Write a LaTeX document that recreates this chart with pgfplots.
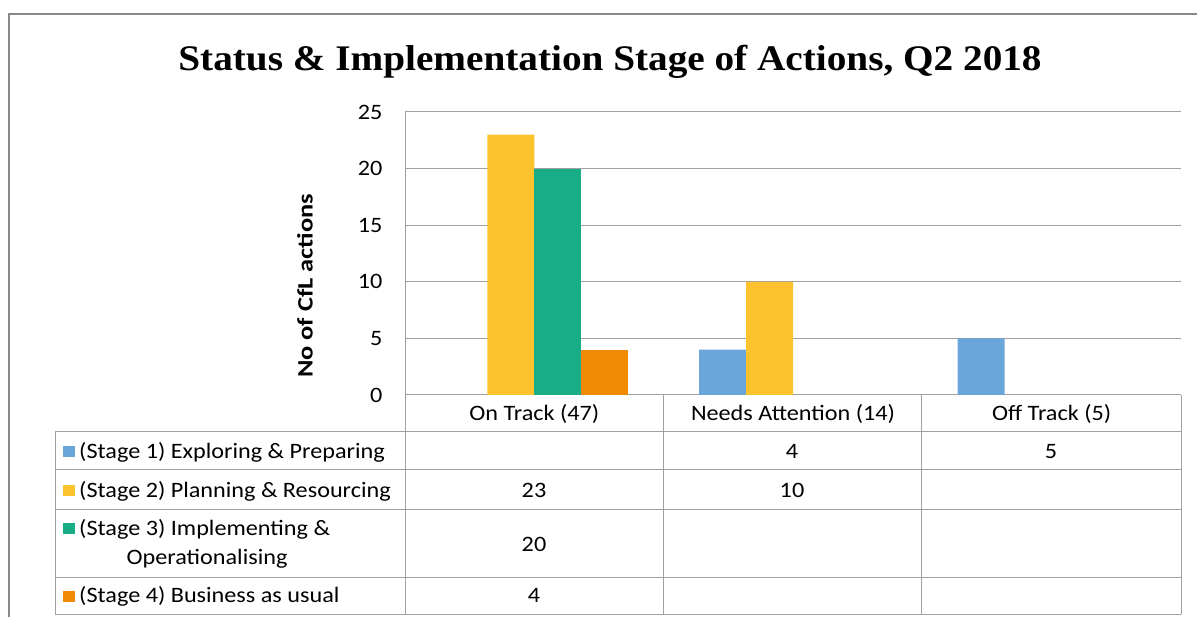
\documentclass[border=0pt]{standalone}
\usepackage{fontspec}
\setmainfont{Carlito}
\newfontfamily\titlefont{Liberation Serif}
\usepackage{pgfplots}
\pgfplotsset{compat=1.18}
\definecolor{cblue}{RGB}{106,166,218}
\definecolor{cyellow}{RGB}{252,195,46}
\definecolor{cgreen}{RGB}{24,173,135}
\definecolor{corange}{RGB}{242,139,4}
\definecolor{gridgray}{RGB}{160,160,160}
\definecolor{framegray}{RGB}{136,136,136}
\begin{document}
\begin{tikzpicture}[x=1pt,y=1pt]
\useasboundingbox (0,0) rectangle (1197,616);
\begin{scope}
\clip (0,0) rectangle (1197,616);
\draw[line width=2pt, framegray] (9,602) rectangle (1230,-30);
\end{scope}
% title
\node[anchor=base, xscale=1.09, font=\titlefont\bfseries\fontsize{36}{40}\selectfont] at (610,545) {Status \& Implementation Stage of Actions, Q2 2018};
\begin{axis}[
  at={(405pt,221pt)}, anchor=south west,
  scale only axis, width=776pt, height=283pt,
  xmin=-0.5, xmax=2.5, ymin=0, ymax=25,
  ytick={0,5,10,15,20,25},
  xtick={0,1,2},
  xticklabels={On Track (47),Needs Attention (14),Off Track (5)},
  major tick length=0pt,
  ymajorgrids, grid style={gridgray, line width=1pt},
  axis x line=bottom, axis y line=left,
  axis line style={-, draw=gridgray, line width=1pt},
  /pgf/number format/assume math mode=true,
  ticklabel style={font=\fontsize{22}{26}\selectfont, xscale=1.1},
  yticklabel style={xshift=-17pt},
  xticklabel style={anchor=base, yshift=-26pt},
  ybar=0pt, bar width=47pt,
  clip=false,
]
\addplot[draw=none, fill=cblue] coordinates {(1,4) (2,5)};
\addplot[draw=none, fill=cyellow] coordinates {(0,23) (1,10)};
\addplot[draw=none, fill=cgreen] coordinates {(0,20)};
\addplot[draw=none, fill=corange] coordinates {(0,4)};
\end{axis}
% y label
\node[rotate=90, xscale=1.2, font=\bfseries\fontsize{22}{26}\selectfont] at (305,330) {No of CfL actions};
% data table lines
\begin{scope}[draw=gridgray, line width=1pt]
\foreach \x in {405,663,921,1181} \draw (\x,221) -- (\x,2);
\draw (55,184) -- (55,2);
\foreach \y in {184,146,106,38,2} \draw (55,\y) -- (1181,\y);
\end{scope}
% legend keys
\fill[cblue] (63,159) rectangle (75,170);
\fill[cyellow] (63,120) rectangle (75,131);
\fill[cgreen] (63,82) rectangle (75,93);
\fill[corange] (63,14) rectangle (75,25);
\begin{scope}[every node/.style={font=\fontsize{22}{26}\selectfont, inner sep=0pt, xscale=1.1}]
\node[anchor=base west] at (79,157) {(Stage 1) Exploring \& Preparing};
\node[anchor=base west] at (79,118) {(Stage 2) Planning \& Resourcing};
\node[anchor=base west] at (79,80) {(Stage 3) Implementing \&};
\node[anchor=base] at (207,51) {Operationalising};
\node[anchor=base west] at (79,13) {(Stage 4) Business as usual};
% values
\node[anchor=base] at (792,157) {4};
\node[anchor=base] at (1051,157) {5};
\node[anchor=base] at (534,118) {23};
\node[anchor=base] at (792,118) {10};
\node[anchor=base] at (534,64) {20};
\node[anchor=base] at (534,13) {4};
\end{scope}
\end{tikzpicture}
\end{document}
